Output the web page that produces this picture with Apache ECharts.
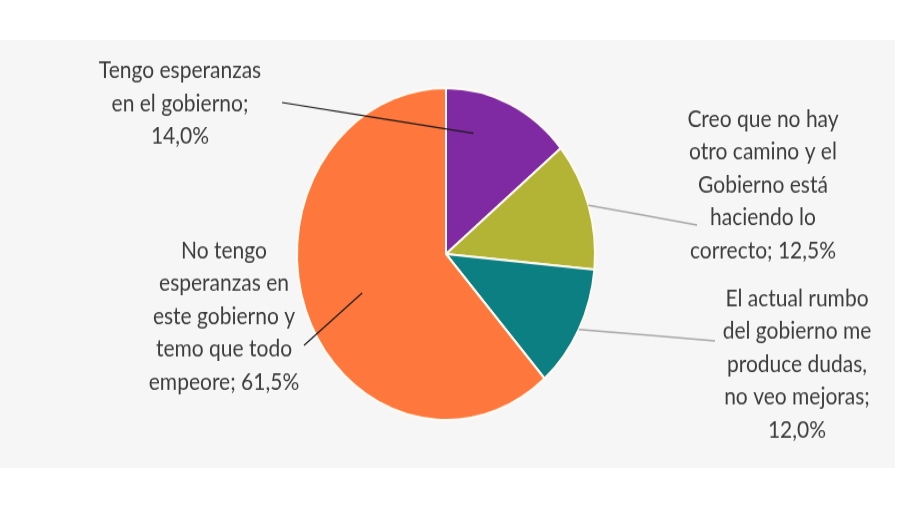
<!DOCTYPE html>
<html>

<head>
  <meta charset="utf-8" />
  <title></title>
  <script src="https://cdn.jsdelivr.net/npm/echarts@6/dist/echarts.min.js"></script>
  <style>
    html, body { margin: 0; padding: 0; background: #fff; }
    #panel { position: absolute; left: 0; top: 40px; width: 895px; height: 428px; background: #f6f6f6; }
    /* the reference is stretched vertically, so the chart is drawn flat and scaled */
    #main { position: absolute; left: 0; top: 0; width: 900px; height: 453px;
            transform: scaleY(1.114); transform-origin: 0 0; }
  </style>
</head>

<body>
  <div id="panel"></div>
  <div id="main"></div>
  <script type="text/javascript">
    var categories = [
      'Tengo esperanzas\nen el gobierno',
      'Creo que no hay\notro camino y el\nGobierno está\nhaciendo lo\ncorrecto',
      'El actual rumbo\ndel gobierno me\nproduce dudas,\nno veo mejoras',
      'No tengo\nesperanzas en\neste gobierno y\ntemo que todo\nempeore'
    ];
    var values = [14.0, 12.5, 12.0, 61.5];
    var valueOnNewLine = [true, false, true, false];
    var colors = ['#7f2aa3', '#b3b435', '#0b7f82', '#fe773c'];
    var lineColors = ['#1a1a1a', '#a8a8a8', '#a8a8a8', '#1a1a1a'];

    // label placement (label centre, leader anchor offset, leader end inside slice)
    var pieCenter = [446, 228];
    var pieRadius = 149;
    var labelPos = [[180, 93], [763, 166], [797, 327], [224, 284]];
    var anchorOffset = [[102, -1], [-66, 36], [-82, -21], [80, 26]];
    var leaderTurn = [-11, 0, 0, -2];
    var leaderDepth = [0.75, 1, 1, 0.61];

    // mid angle of each slice, clockwise from 12 o'clock
    var total = values.reduce(function (s, v) { return s + v; }, 0);
    var midAngles = [];
    values.reduce(function (acc, v) {
      midAngles.push((acc + v / 2) / total * 360);
      return acc + v;
    }, 0);

    var chart = echarts.init(document.getElementById('main'));

    // slices
    var slices = {
      type: 'pie',
      z: 2,
      center: pieCenter,
      radius: pieRadius,
      startAngle: 90,
      silent: true,
      label: { show: false },
      labelLine: { show: false },
      itemStyle: { borderColor: '#fffbf2', borderWidth: 2 },
      data: categories.map(function (name, i) {
        return { name: name, value: values[i], itemStyle: { color: colors[i] } };
      })
    };

    // same pie, transparent, drawn on top so its leader lines cross the slices
    var labels = {
      type: 'pie',
      z: 3,
      center: pieCenter,
      radius: pieRadius,
      startAngle: 90,
      silent: true,
      avoidLabelOverlap: false,
      itemStyle: { color: 'rgba(0,0,0,0)', borderWidth: 0 },
      label: {
        show: true,
        position: 'outside',
        color: '#3d3d3d',
        fontFamily: 'Lato',
        fontSize: 21,
        lineHeight: 29.5,
        align: 'center',
        formatter: function (p) {
          var v = p.value.toFixed(1).replace('.', ',') + '%';
          return p.name + ';' + (valueOnNewLine[p.dataIndex] ? '\n' : ' ') + v;
        }
      },
      labelLine: { show: true, length: 10, length2: 10 },
      labelLayout: function (params) {
        var i = params.dataIndex;
        var t = (midAngles[i] + leaderTurn[i]) * Math.PI / 180;
        var r = pieRadius * leaderDepth[i];
        var inner = [pieCenter[0] + r * Math.sin(t), pieCenter[1] - r * Math.cos(t)];
        var end = [labelPos[i][0] + anchorOffset[i][0], labelPos[i][1] + anchorOffset[i][1]];
        var mid = [(inner[0] + end[0]) / 2, (inner[1] + end[1]) / 2];
        return {
          x: labelPos[i][0],
          y: labelPos[i][1],
          align: 'center',
          verticalAlign: 'middle',
          labelLinePoints: [inner, mid, end]
        };
      },
      data: categories.map(function (name, i) {
        return {
          name: name,
          value: values[i],
          labelLine: { lineStyle: { color: lineColors[i], width: lineColors[i] === '#1a1a1a' ? 1.2 : 1.5 } }
        };
      })
    };

    chart.setOption({ animation: false, series: [slices, labels] });
  </script>
</body>

</html>
